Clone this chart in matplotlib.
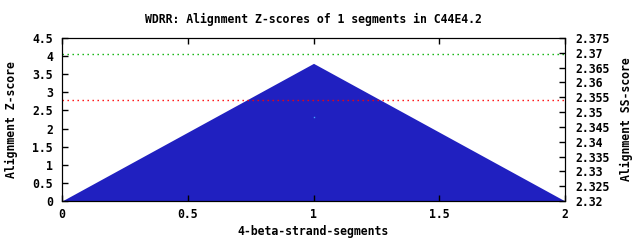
import matplotlib
matplotlib.use("Agg")
import matplotlib.pyplot as plt

title = "WDRR: Alignment Z-scores of 1 segments in C44E4.2"
seg_x = [0, 1, 2]
zscores = [0, 3.8, 0]
ss_x = [1]
ss_scores = [2.3484]
green_level = 4.05
red_level = 2.79
left_ticks = [0, 0.5, 1, 1.5, 2, 2.5, 3, 3.5, 4, 4.5]
right_ticks = [2.32, 2.325, 2.33, 2.335, 2.34, 2.345, 2.35, 2.355, 2.36, 2.365, 2.37, 2.375]
x_ticks = [0, 0.5, 1, 1.5, 2]

font = dict(family="DejaVu Sans Mono", weight="bold", size=8.3)

fig = plt.figure(figsize=(6.4, 2.4), dpi=100)
ax = fig.add_axes([62/640, 1-201/240, (565-62)/640, (201-38)/240])
ax.fill_between(seg_x, zscores, 0, color="#2020c0", lw=0)
ax.axhline(green_level, color="#00b000", ls=(0, (1, 2.6)), lw=1)
ax.axhline(red_level, color="#ff0000", ls=(0, (1, 2.6)), lw=1)
ax.set_xlim(0, 2)
ax.set_ylim(0, 4.5)
ax.set_xticks(x_ticks)
ax.set_xticklabels([f"{t:g}" for t in x_ticks], **font)
ax.set_yticks(left_ticks)
ax.set_yticklabels([f"{t:g}" for t in left_ticks], **font)
ax.tick_params(direction="in", length=4, top=True, width=1)
ax.tick_params(axis="y", pad=6.5)
ax.tick_params(axis="x", pad=5)
ax.set_xlabel("4-beta-strand-segments", labelpad=3, **font)
ax.set_ylabel("Alignment Z-score", labelpad=10, **font)
ax.set_title(title, pad=11, **font)

ax2 = ax.twinx()
ax2.set_ylim(2.32, 2.375)
ax2.plot(ss_x, ss_scores, marker="s", ms=1, mew=0, color="#40a0ff", ls="none")
ax2.set_yticks(right_ticks)
ax2.set_yticklabels([f"{t:g}" for t in right_ticks], **font)
ax2.tick_params(direction="in", length=4, width=1, pad=7.5)
ax2.set_ylabel("Alignment SS-score", labelpad=7, **font)

fig.savefig("out.png", dpi=100)
